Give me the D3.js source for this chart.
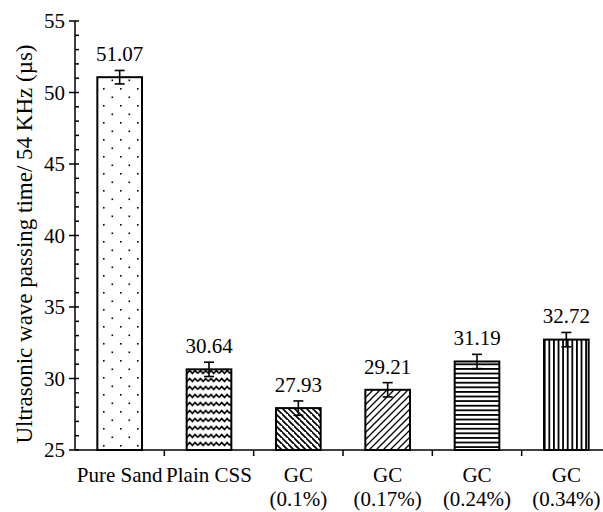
<!DOCTYPE html>
<html>
<head>
<meta charset="utf-8">
<script src="https://cdn.jsdelivr.net/npm/d3@7"></script>
<style>
  body { margin: 0; background: #fff; }
  text { font-family: "Liberation Serif", "Times New Roman", serif; fill: #000; }
</style>
</head>
<body>
<svg id="chart" width="603" height="512" font-family="Liberation Serif"></svg>
<script>
// chart data
const categories = ['Pure Sand', 'Plain CSS', 'GC|(0.1%)', 'GC|(0.17%)', 'GC|(0.24%)', 'GC|(0.34%)'];
const values = [51.07, 30.64, 27.93, 29.21, 31.19, 32.72];
const errors = [0.47, 0.5, 0.5, 0.5, 0.5, 0.5];
const patterns = ['dots', 'wave', 'back', 'fwd', 'horiz', 'vert'];
const yTicks = [25, 30, 35, 40, 45, 50, 55];

const svg = d3.select('#chart');
const xLeft = 75, xRight = 611, yTop = 21, yBottom = 450;

const x = d3.scaleBand().domain(categories).range([xLeft, xRight]).paddingInner(0.5).paddingOuter(0.25);
const y = d3.scaleLinear().domain([25, 55]).range([yBottom, yTop]);

// patterns
const defs = svg.append('defs');
let p = defs.append('pattern').attr('id', 'dots').attr('patternUnits', 'userSpaceOnUse')
  .attr('width', 17).attr('height', 17).attr('x', 103).attr('y', 3);
p.append('rect').attr('x', 0).attr('y', 0).attr('width', 1.6).attr('height', 1.6).attr('fill', '#000');
p.append('rect').attr('x', 8.5).attr('y', 8.5).attr('width', 1.6).attr('height', 1.6).attr('fill', '#000');

p = defs.append('pattern').attr('id', 'wave').attr('patternUnits', 'userSpaceOnUse')
  .attr('width', 10.7).attr('height', 8).attr('x', 187);
p.append('path').attr('d', 'M0,5.5 L2.7,2.5 L5.35,5.5 L8,2.5 L10.7,5.5')
  .attr('fill', 'none').attr('stroke', '#000').attr('stroke-width', 1.6);

p = defs.append('pattern').attr('id', 'back').attr('patternUnits', 'userSpaceOnUse')
  .attr('width', 6).attr('height', 6);
p.append('path').attr('d', 'M-1,-1 L7,7 M-4,2 L2,8 M4,-4 L10,2')
  .attr('stroke', '#000').attr('stroke-width', 1.7);

p = defs.append('pattern').attr('id', 'fwd').attr('patternUnits', 'userSpaceOnUse')
  .attr('width', 7).attr('height', 7);
p.append('path').attr('d', 'M-1,8 L8,-1 M-4,4 L4,-4 M3,11 L11,3')
  .attr('stroke', '#000').attr('stroke-width', 1.3);

p = defs.append('pattern').attr('id', 'horiz').attr('patternUnits', 'userSpaceOnUse')
  .attr('width', 10).attr('height', 4.6);
p.append('rect').attr('x', 0).attr('y', 0).attr('width', 10).attr('height', 1.8).attr('fill', '#000');

p = defs.append('pattern').attr('id', 'vert').attr('patternUnits', 'userSpaceOnUse')
  .attr('width', 4.6).attr('height', 10).attr('x', 1);
p.append('rect').attr('x', 0).attr('y', 0).attr('width', 1.8).attr('height', 10).attr('fill', '#000');

// bars
const bw = x.bandwidth();
categories.forEach((c, i) => {
  svg.append('rect')
    .attr('x', x(c)).attr('y', y(values[i]))
    .attr('width', bw).attr('height', y(25) - y(values[i]))
    .attr('fill', '#fff');
  svg.append('rect')
    .attr('x', x(c)).attr('y', y(values[i]))
    .attr('width', bw).attr('height', y(25) - y(values[i]))
    .attr('fill', 'url(#' + patterns[i] + ')')
    .attr('stroke', '#000').attr('stroke-width', 2);

  // error bar
  const cx = x(c) + bw / 2;
  const e = svg.append('g').attr('stroke', '#000').attr('stroke-width', 1.6);
  e.append('line').attr('x1', cx).attr('x2', cx).attr('y1', y(values[i] + errors[i])).attr('y2', y(values[i] - errors[i]));
  e.append('line').attr('x1', cx - 5).attr('x2', cx + 5).attr('y1', y(values[i] + errors[i])).attr('y2', y(values[i] + errors[i]));
  e.append('line').attr('x1', cx - 5).attr('x2', cx + 5).attr('y1', y(values[i] - errors[i])).attr('y2', y(values[i] - errors[i]));

  svg.append('text')
    .attr('x', cx).attr('y', y(values[i] + errors[i]) - 9)
    .attr('text-anchor', 'middle').attr('font-size', 21)
    .text(values[i].toFixed(2));
});

// y axis
const yAxis = svg.append('g');
yAxis.append('line').attr('x1', xLeft).attr('x2', xLeft).attr('y1', yTop).attr('y2', yBottom)
  .attr('stroke', '#000').attr('stroke-width', 1.5);
d3.range(25, 56, 1).forEach(v => {
  const major = v % 5 === 0;
  yAxis.append('line')
    .attr('x1', major ? xLeft - 6 : xLeft).attr('x2', xLeft + 4)
    .attr('y1', y(v)).attr('y2', y(v))
    .attr('stroke', '#000').attr('stroke-width', 1.5);
});
yTicks.forEach(v => {
  yAxis.append('text').attr('x', xLeft - 10).attr('y', y(v) + 7)
    .attr('text-anchor', 'end').attr('font-size', 21).text(v);
});
svg.append('text')
  .attr('transform', 'translate(32,' + 244 + ') rotate(-90)')
  .attr('text-anchor', 'middle').attr('font-size', 23)
  .text('Ultrasonic wave passing time/ 54 KHz (µs)');

// x axis
const xAxis = svg.append('g');
xAxis.append('line').attr('x1', xLeft).attr('x2', 603).attr('y1', yBottom).attr('y2', yBottom)
  .attr('stroke', '#000').attr('stroke-width', 1.5);
categories.forEach((c, i) => {
  const bx = x(c) - x.step() * 0.25;
  if (i > 0) {
    xAxis.append('line').attr('x1', bx).attr('x2', bx).attr('y1', yBottom).attr('y2', yBottom + 6)
      .attr('stroke', '#000').attr('stroke-width', 1.5);
  }
  const parts = c.split('|');
  parts.forEach((t, k) => {
    xAxis.append('text').attr('x', x(c) + bw / 2).attr('y', yBottom + 32 + k * 24)
      .attr('text-anchor', 'middle').attr('font-size', 21).text(t);
  });
});
</script>
</body>
</html>
